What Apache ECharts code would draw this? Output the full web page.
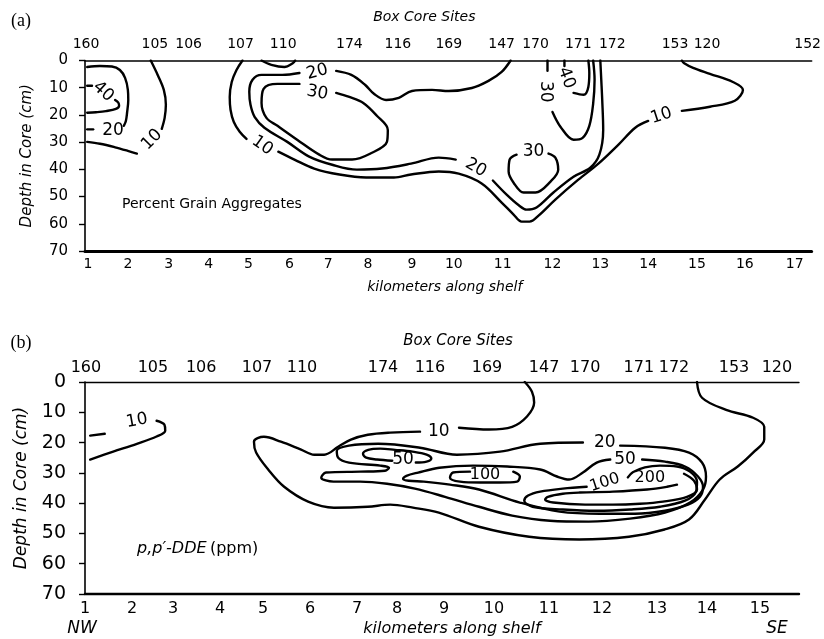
<!DOCTYPE html>
<html><head><meta charset="utf-8">
<script src="https://cdn.jsdelivr.net/npm/echarts@6/dist/echarts.min.js"></script>
<style>html,body{margin:0;padding:0;background:#fff}#c{width:824px;height:639px}</style>
</head><body><div id="c"></div>
<script>
// ---------- axis tick labels ----------
const kmTicksA = [1,2,3,4,5,6,7,8,9,10,11,12,13,14,15,16,17];
const kmTicksB = [1,2,3,4,5,6,7,8,9,10,11,12,13,14,15];
const siteNamesA = ['160','105','106','107','110','174','116','169','147','170','171','172','153','120','152'];
const siteKmA = [0.95,2.66,3.5,4.8,5.85,7.53,8.68,9.88,10.98,11.66,12.54,13.25,14.55,15.21,17.26];
const siteNamesB = ['160','105','106','107','110','174','116','169','147','170','171','172','153','120'];
const siteKmB = [1.02,2.51,3.6,4.86,5.83,7.65,8.7,9.86,10.91,11.68,12.67,13.34,14.51,15.32];

// ---------- (a) percent grain aggregates: contour lines [km, depth cm] ----------
const aLeft40 = [
  [[0.98,9.3],[1.1,9.3]],
  [[1.68,14.5],[1.76,15.5],[1.78,16.6],[1.7,17.8],[1.45,18.6],[1.2,19.0],[0.98,19.2]]
];
const aLeft20 = [
  [[0.98,2.4],[1.3,2.0],[1.6,2.2],[1.8,3.5],[1.93,6.4],[2.0,10.8],[2.01,14.5],[1.98,19.2],[1.95,22.2],[1.9,24.0]],
  [[0.98,25.3],[1.13,25.3]]
];
const aLeft10 = [
  [[0.98,29.9],[1.3,30.6],[1.68,31.9],[2.0,33.2],[2.22,34.2]],
  [[2.83,25.1],[2.9,21.1],[2.93,16.3],[2.88,10.8],[2.73,5.3],[2.56,0]]
];
const aTopU = [[[5.32,0],[5.56,1.6],[5.88,2.4],[6.08,1.1],[6.15,0]]];
const aMid10 = [
  [[4.85,0],[4.7,3.5],[4.58,7.9],[4.53,13.4],[4.55,18.1],[4.63,22.5],[4.78,26.2],[4.95,28.8]],
  [[5.73,33.5],[6.13,36.4],[6.64,39.7],[7.28,41.9],[7.95,43.0],[8.59,43.0],[8.98,41.9],[9.64,40.8],[10.1,41.6],[10.57,45.2],[10.98,52.2],[11.22,56.6],[11.38,59.2],[11.54,59.2],[11.72,57.0],[12.06,51.1],[12.54,43.8],[12.96,37.9],[13.38,30.9],[13.73,24.7],[14.0,22.2]],
  [[14.69,18.5],[15.27,17.0],[15.79,14.8],[15.96,10.8],[15.75,7.9],[15.27,4.9],[14.92,2.7],[14.73,0.9],[14.69,0]]
];
const aMid20 = [
  [[7.2,3.8],[7.58,5.3],[7.93,9.0],[8.14,12.3],[8.41,14.5],[8.7,13.7],[9.0,11.2],[9.48,10.8],[9.88,11.2],[10.37,10.1],[10.71,7.5],[10.98,4.2],[11.16,0]],
  [[6.26,4.6],[5.83,5.3],[5.32,5.3],[5.1,7.1],[5.02,11.5],[5.05,16.3],[5.15,20.7],[5.39,24.7],[5.95,29.9],[6.51,35.3],[7.1,38.3],[7.72,40.1],[8.32,39.7],[8.98,37.9],[9.64,35.7],[10.04,36.4]],
  [[10.8,44.1],[11.08,49.3],[11.33,53.3],[11.48,54.8],[11.68,54.0],[12.02,48.5],[12.44,42.7],[12.79,39.4],[12.98,34.6],[13.06,25.5],[13.04,14.5],[13.02,7.1],[13.0,0]]
];
const aMid30 = [[[7.2,11.9],[7.53,13.4],[7.88,15.6],[8.2,20.3],[8.45,25.5],[8.43,29.9],[8.09,33.9],[7.6,36.4],[7.1,36.4],[6.77,34.6],[6.2,29.1],[5.71,24.0],[5.44,21.1],[5.32,15.6],[5.37,10.4],[5.71,8.6],[6.26,8.6]]];
const aTop30 = [
  [[11.9,0],[11.9,3.8]],
  [[12.0,18.9],[12.17,24.4],[12.44,29.1],[12.63,28.4],[12.77,24.0],[12.85,15.9],[12.88,7.1],[12.85,0]]
];
const aTop40 = [
  [[12.25,0],[12.25,2.0]],
  [[12.44,11.9],[12.65,12.6],[12.75,9.7],[12.77,4.6],[12.75,0]]
];
const aLow30 = [[[11.92,34.2],[12.06,35.7],[12.12,40.1],[11.96,44.5],[11.66,48.5],[11.42,48.5],[11.22,44.9],[11.12,40.8],[11.14,36.4],[11.28,34.6]]];
const labelsA = [[1.38,11.5,'40'],[1.63,25.8,'20'],[2.59,29.1,'10'],[5.34,31.3,'10'],[6.72,4.2,'20'],[6.72,11.9,'30'],[10.45,39.4,'20'],[11.86,11.5,'30'],[12.29,6.4,'40'],[11.62,33.5,'30'],[14.27,20.3,'10']];

// ---------- (b) p,p'-DDE (ppm): contour lines [km, depth cm] ----------
const bLeft10 = [
  [[1.11,17.7],[1.42,17.1]],
  [[2.6,12.8],[2.79,14.1],[2.81,16.1],[2.6,18.0],[2.12,20.4],[1.6,23.0],[1.11,25.6]]
];
const bBig10 = [
  [[10.56,0],[10.69,3.2],[10.73,6.8],[10.6,11.4],[10.33,14.8],[9.9,15.7],[9.3,15.1]],
  [[8.49,16.4],[7.83,16.7],[7.27,17.4],[6.87,19.0],[6.6,21.4],[6.3,24.0],[6.09,24.0],[5.81,22.3],[5.38,19.7],[5.02,18.1],[4.79,19.7],[4.84,23.3],[5.11,28.9],[5.45,34.6],[5.96,39.5],[6.51,41.5],[7.27,41.2],[7.83,40.5],[8.34,41.5],[8.89,43.1],[9.7,47.8],[10.64,51.1],[11.57,52.0],[12.49,51.1],[13.15,48.7],[13.64,45.4],[13.96,38.8],[14.24,32.2],[14.58,27.9],[14.87,23.3],[15.08,19.0],[15.08,14.8],[14.87,11.8],[14.36,9.2],[13.9,5.2],[13.8,0]]
];
const b20 = [
  [[12.33,21.0],[13.16,21.7],[13.64,23.3],[13.9,26.6],[13.98,31.2],[13.92,35.5],[13.66,39.8],[13.16,43.1],[12.51,45.1],[11.75,46.1],[11.02,45.8],[10.33,44.1],[9.7,41.2],[9.02,37.9],[8.38,35.2],[7.75,33.6],[7.08,32.9],[6.5,32.9],[6.24,31.6],[6.34,29.9],[7.08,29.6],[7.7,29.3],[7.8,28.3],[7.58,27.6],[6.83,26.6],[6.6,25.0],[6.57,22.7],[6.83,21.0],[7.53,20.4],[8.49,21.7],[9.26,24.0],[10.11,23.0],[10.84,20.4],[11.64,20.0]]
];
const b50 = [
  [[7.88,26.0],[7.5,25.6],[7.23,25.0],[7.15,23.7],[7.28,22.4],[7.58,22.0],[7.95,22.4],[8.33,23.0],[8.63,24.0],[8.73,25.3],[8.63,26.3],[8.4,26.6]],
  [[12.73,25.6],[13.16,26.3],[13.56,27.9],[13.82,31.2],[13.92,34.6],[13.86,37.9],[13.62,40.5],[13.16,42.5],[12.6,43.5],[11.96,43.5],[11.2,42.8],[10.47,39.8],[9.7,35.5],[9.12,33.9],[8.57,32.9],[8.25,32.6],[8.13,32.0],[8.2,31.0],[8.45,29.9],[8.9,28.3],[9.58,27.6],[10.24,27.9],[10.84,28.9],[11.15,31.2],[11.38,32.2],[11.64,29.9],[11.9,26.6],[12.15,25.6]]
];
const b100 = [
  [[10.35,29.6],[10.47,31.2],[10.42,32.9],[10.11,33.2],[9.72,33.2],[9.32,32.9],[9.12,31.6],[9.18,29.9],[9.52,29.6]],
  [[11.71,34.6],[11.26,35.2],[10.84,36.2],[10.62,37.5],[10.55,39.2],[10.7,41.2],[11.26,42.1],[11.9,42.5],[12.51,42.1],[13.06,41.2],[13.56,39.2],[13.78,36.2],[13.8,32.9],[13.66,29.6],[13.4,27.9],[13.06,27.6],[12.78,28.2],[12.56,29.8],[12.47,31.5]]
];
const b200 = [
  [[13.4,33.9],[13.2,34.6],[12.82,35.5],[12.2,36.2],[11.58,36.5],[11.26,36.9],[10.98,37.9],[10.93,38.8],[11.08,39.8],[11.68,40.5],[12.2,40.5],[12.69,40.2],[13.12,39.5],[13.6,37.9],[13.8,35.5],[13.74,32.6],[13.54,30.3]]
];
const labelsB = [[2.12,12.8,'10'],[8.89,16.4,'10'],[12.05,20.0,'20'],[8.13,25.6,'50'],[12.42,25.6,'50'],[9.82,30.6,'100'],[12.05,33.2,'100'],[12.87,31.6,'200']];

// ---------- styling / layout ----------
const labelRotA = [-42,0,45,-35,15,-10,-30,-90,-70,0,18];
const labelRotB = [10,0,0,0,0,0,18,0];
// the drawn km scale of each panel is not uniform: offset of every km tick along the axis
const drawnA = [3,43,84,124,164,205,244,284,328,370,419,469,517,565,614,662,712], lenA = 729;
const drawnB = [0,47,88,135,178,225,272,312,359,409,464,517,572,622,675], lenB = 714;

function makeWarp(km, at) {
  return function (v) {
    let i = 0;
    while (i < km.length - 2 && v > km[i + 1]) i++;
    const t = (v - km[i]) / (km[i + 1] - km[i]);
    return at[i] + t * (at[i + 1] - at[i]);
  };
}
const warpA = makeWarp(kmTicksA, drawnA);
const warpB = makeWarp(kmTicksB, drawnB);

const FONT = 'DejaVu Sans';
function lookup(vals, names) {
  const m = {};
  vals.forEach((v, i) => { m[v.toFixed(3)] = names[i]; });
  return v => (m[Number(v).toFixed(3)] ?? '');
}
const kmPosA = kmTicksA.map(warpA), kmPosB = kmTicksB.map(warpB);
const sitePosA = siteKmA.map(warpA), sitePosB = siteKmB.map(warpB);
const fmtKmA = lookup(kmPosA, kmTicksA.map(String));
const fmtKmB = lookup(kmPosB, kmTicksB.map(String));
const fmtSiteA = lookup(sitePosA, siteNamesA);
const fmtSiteB = lookup(sitePosB, siteNamesB);

function lineSeries(groups, axisX, axisY, warp) {
  const out = [];
  groups.forEach(g => g.forEach(seg => {
    out.push({
      type: 'line', xAxisIndex: axisX, yAxisIndex: axisY,
      data: seg.map(p => [warp(p[0]), p[1]]),
      smooth: 0.35, symbol: 'none', silent: true, animation: false,
      lineStyle: { color: '#000', width: 2.4, cap: 'round', join: 'round' }, z: 3
    });
  }));
  return out;
}
function labelSeries(labels, rots, axisX, axisY, warp) {
  return {
    type: 'scatter', xAxisIndex: axisX, yAxisIndex: axisY, silent: true, animation: false,
    symbolSize: 0, z: 5, itemStyle: { opacity: 1, color: '#000' },
    data: labels.map((l, i) => ({
      name: l[2], value: [warp(l[0]), l[1]],
      label: { rotate: rots[i], fontSize: l[2].length > 2 ? 16 : 17, color: '#000', opacity: 1 }
    })),
    label: { show: true, position: 'inside', formatter: p => p.name, color: '#000', opacity: 1,
      textBorderWidth: 0, fontFamily: FONT, align: 'center', verticalAlign: 'middle' }
  };
}

const yAxisCommon = (grid, offset, fs, nameFs, nameGap) => ({
  gridIndex: grid, type: 'value', inverse: true, min: 0, max: 70, interval: 10,
  position: 'left', offset: offset,
  axisLine: { show: true, lineStyle: { color: '#000', width: 1.6 } },
  axisTick: { show: true, length: 6, lineStyle: { color: '#000', width: 1.4 } },
  axisLabel: { color: '#000', fontFamily: FONT, fontSize: fs, margin: 4 },
  splitLine: { show: false },
  name: 'Depth in Core (cm)', nameLocation: 'middle', nameGap: nameGap,
  nameTextStyle: { color: '#000', fontFamily: FONT, fontStyle: 'italic', fontSize: nameFs }
});

const option = {
  backgroundColor: '#fff',
  animation: false,
  grid: [
    { left: 85, top: 60.5, width: lenA, height: 190.5 },
    { left: 85, top: 382, width: lenB, height: 212 }
  ],
  xAxis: [
    { gridIndex: 0, type: 'value', position: 'bottom', min: 0, max: lenA,
      axisLine: { show: true, onZero: false, lineStyle: { color: '#000', width: 3 } },
      axisTick: { show: false }, splitLine: { show: false },
      axisLabel: { customValues: kmPosA, formatter: fmtKmA, color: '#000', fontFamily: FONT, fontSize: 14, margin: 6 },
      name: 'kilometers along shelf', nameLocation: 'middle', nameGap: 29,
      nameTextStyle: { color: '#000', fontFamily: FONT, fontStyle: 'italic', fontSize: 14, padding: [0, 7, 0, 0] } },
    { gridIndex: 0, type: 'value', position: 'top', min: 0, max: lenA,
      axisLine: { show: true, onZero: false, lineStyle: { color: '#000', width: 1.6 } },
      axisTick: { show: false }, splitLine: { show: false },
      axisLabel: { customValues: sitePosA, formatter: fmtSiteA, color: '#000', fontFamily: FONT, fontSize: 14, margin: 9 },
      name: 'Box Core Sites', nameLocation: 'middle', nameGap: 36,
      nameTextStyle: { color: '#000', fontFamily: FONT, fontStyle: 'italic', fontSize: 14, padding: [0, 48, 0, 0] } },
    { gridIndex: 1, type: 'value', position: 'bottom', min: 0, max: lenB,
      axisLine: { show: true, onZero: false, lineStyle: { color: '#000', width: 2.4 } },
      axisTick: { show: false }, splitLine: { show: false },
      axisLabel: { customValues: kmPosB, formatter: fmtKmB, color: '#000', fontFamily: FONT, fontSize: 16, margin: 7 },
      name: 'kilometers along shelf', nameLocation: 'middle', nameGap: 27,
      nameTextStyle: { color: '#000', fontFamily: FONT, fontStyle: 'italic', fontSize: 16, padding: [0, 0, 0, 20] } },
    { gridIndex: 1, type: 'value', position: 'top', min: 0, max: lenB,
      axisLine: { show: true, onZero: false, lineStyle: { color: '#000', width: 1.4 } },
      axisTick: { show: false }, splitLine: { show: false },
      axisLabel: { customValues: sitePosB, formatter: fmtSiteB, color: '#000', fontFamily: FONT, fontSize: 16, margin: 6 },
      name: 'Box Core Sites', nameLocation: 'middle', nameGap: 33,
      nameTextStyle: { color: '#000', fontFamily: FONT, fontStyle: 'italic', fontSize: 15, padding: [0, 0, 0, 32] } }
  ],
  yAxis: [
    yAxisCommon(0, 13, 15, 15, 37),
    yAxisCommon(1, 15, 19, 17, 40)
  ],
  graphic: [
    { type: 'text', x: 21, y: 21, style: { text: '(a)', font: '18px "Liberation Serif"', fill: '#000', align: 'center', verticalAlign: 'middle' } },
    { type: 'text', x: 21, y: 343, style: { text: '(b)', font: '18px "Liberation Serif"', fill: '#000', align: 'center', verticalAlign: 'middle' } },
    { type: 'text', x: 122, y: 204, style: { text: 'Percent Grain Aggregates', font: '14px "DejaVu Sans"', fill: '#000', align: 'left', verticalAlign: 'middle' } },
    { type: 'text', x: 137, y: 549, style: { text: '{i|p,p\u2032-DDE} {n|(ppm)}', fill: '#000', align: 'left', verticalAlign: 'middle',
        rich: { i: { fontFamily: FONT, fontStyle: 'italic', fontSize: 16, fill: '#000' }, n: { fontFamily: FONT, fontSize: 16, fill: '#000' } } } },
    { type: 'text', x: 82, y: 629, style: { text: 'NW', font: 'italic 17px "DejaVu Sans"', fill: '#000', align: 'center', verticalAlign: 'middle' } },
    { type: 'text', x: 777, y: 629, style: { text: 'SE', font: 'italic 17px "DejaVu Sans"', fill: '#000', align: 'center', verticalAlign: 'middle' } }
  ],
  series: [].concat(
    lineSeries([aLeft40, aLeft20, aLeft10, aTopU, aMid10, aMid20, aMid30, aTop30, aTop40, aLow30], 0, 0, warpA),
    [labelSeries(labelsA, labelRotA, 0, 0, warpA)],
    lineSeries([bLeft10, bBig10, b20, b50, b100, b200], 2, 1, warpB),
    [labelSeries(labelsB, labelRotB, 2, 1, warpB)]
  )
};
echarts.init(document.getElementById('c'), null, { renderer: 'canvas' }).setOption(option);
</script></body></html>
